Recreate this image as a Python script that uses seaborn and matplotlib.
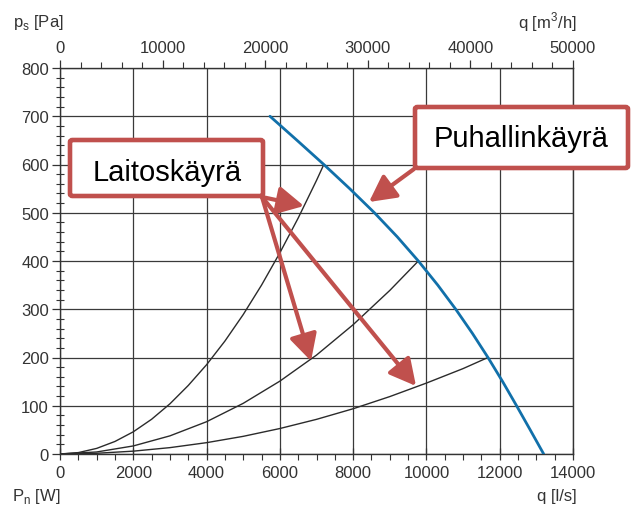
import matplotlib
matplotlib.use("Agg")
import matplotlib.pyplot as plt
import seaborn as sns
from matplotlib.patches import FancyBboxPatch, FancyArrowPatch
from matplotlib.ticker import MultipleLocator

# Fan curve (puhallinkäyrä): air flow q [l/s] against static pressure ps [Pa]
fan_q = [5730, 6470, 7200, 7905, 8580, 9205, 9780, 10310, 10800, 11255, 11680, 12080, 12460, 12832, 13200]
fan_p = [700, 650, 600, 550, 500, 450, 400, 350, 300, 250, 200, 150, 100, 50, 0]

# System curves (laitoskäyrät) ending at their operating points on the fan curve
sys1_q = [0, 500, 1000, 1500, 2000, 2500, 3000, 3500, 4000, 4500, 5000, 5500, 6000, 6500, 7000, 7200]
sys1_p = [0, 2.9, 11.6, 26, 46, 72, 104, 142, 185, 234, 289, 350, 417, 489, 567, 600]
sys2_q = [0, 1000, 2000, 3000, 4000, 5000, 6000, 7000, 8000, 9000, 9780]
sys2_p = [0, 4.2, 16.7, 37.6, 66.9, 105, 151, 205, 268, 339, 400]
sys3_q = [0, 1000, 2000, 3000, 4000, 5000, 6000, 7000, 8000, 9000, 10000, 11000, 11680]
sys3_p = [0, 1.5, 5.9, 13.2, 23.5, 36.6, 52.8, 71.8, 93.8, 119, 147, 177, 200]

x_ticks = [0, 2000, 4000, 6000, 8000, 10000, 12000, 14000]
y_ticks = [0, 100, 200, 300, 400, 500, 600, 700, 800]
top_ticks = [0, 10000, 20000, 30000, 40000, 50000]

sns.set_theme(style="white")
plt.rcParams["font.family"] = ["Liberation Sans", "DejaVu Sans"]
plt.rcParams["mathtext.fontset"] = "custom"
plt.rcParams["mathtext.rm"] = "Liberation Sans"

W, H = 633, 510
fig = plt.figure(figsize=(W / 100, H / 100), dpi=100)
fig.patch.set_facecolor("white")

def fx(px):
    return px / W

def fy(py):
    return 1 - py / H

ax = fig.add_axes([fx(60), fy(455), fx(573) - fx(60), fy(69) - fy(455)])
ax.set_facecolor("white")

line_col = "#2b2b2b"
for q, p in [(sys1_q, sys1_p), (sys2_q, sys2_p), (sys3_q, sys3_p)]:
    sns.lineplot(x=q, y=p, ax=ax, color=line_col, lw=1.0, sort=False, estimator=None, zorder=3)
sns.lineplot(x=fan_q, y=fan_p, ax=ax, color="#1170aa", lw=2.0, sort=False, estimator=None, zorder=4)

ax.set_xlim(0, 14000)
ax.set_ylim(0, 800)
ax.set_xticks(x_ticks)
ax.set_yticks(y_ticks)
ax.xaxis.set_minor_locator(MultipleLocator(500))
ax.yaxis.set_minor_locator(MultipleLocator(20))
ax.grid(True, which="major", color="#3a3a3a", lw=0.9)
ax.set_axisbelow(True)
for s in ax.spines.values():
    s.set_color("#333333")
    s.set_linewidth(1.0)
tick_col = "#333333"
ax.tick_params(axis="x", which="major", direction="inout", length=8, width=0.9,
               colors=tick_col, labelsize=12, pad=4, bottom=True)
ax.tick_params(axis="x", which="minor", direction="out", length=4, width=0.8,
               colors=tick_col, bottom=True)
ax.tick_params(axis="y", which="major", direction="out", length=6, width=0.9,
               colors=tick_col, labelsize=12, pad=2, left=True)
ax.tick_params(axis="y", which="minor", direction="inout", length=6, width=0.8,
               colors=tick_col, left=True)
ax.set_xlabel("")
ax.set_ylabel("")

ax2 = ax.twiny()
ax2.set_xlim(0, 50000)
ax2.set_xticks(top_ticks)
ax2.xaxis.set_minor_locator(MultipleLocator(2000))
ax2.tick_params(axis="x", which="major", direction="out", length=6, width=0.9,
                colors=tick_col, labelsize=12, pad=3, top=True)
ax2.tick_params(axis="x", which="minor", direction="out", length=4, width=0.8,
                colors=tick_col, top=True)
for s in ax2.spines.values():
    s.set_visible(False)

# axis titles
lab_kw = dict(fontsize=12, color="#333333")
fig.text(fx(13), fy(22), r"p$_\mathregular{s}$ [Pa]", ha="left", va="center", **lab_kw)
fig.text(fx(577), fy(22), r"q [m$^\mathregular{3}$/h]", ha="right", va="center", **lab_kw)
fig.text(fx(12), fy(497), r"P$_\mathregular{n}$ [W]", ha="left", va="center", **lab_kw)
fig.text(fx(577), fy(497), "q [l/s]", ha="right", va="center", **lab_kw)

# callout boxes
red = "#c0504d"

def box(x0, y0, x1, y1):
    p = FancyBboxPatch((fx(x0), fy(y1)), fx(x1) - fx(x0), fy(y0) - fy(y1),
                       boxstyle="round,pad=0,rounding_size=0.004",
                       transform=fig.transFigure, facecolor="white",
                       edgecolor=red, lw=3.3, zorder=5)
    fig.add_artist(p)

box(70, 141, 263, 197)
box(415, 108, 628, 169)
fig.text(fx(167), fy(181), "Laitoskäyrä", ha="center", va="baseline",
         fontsize=21, color="black", zorder=6)
fig.text(fx(521), fy(147), "Puhallinkäyrä", ha="center", va="baseline",
         fontsize=21, color="black", zorder=6)

def arrow(x0, y0, x1, y1):
    a = FancyArrowPatch((fx(x0), fy(y0)), (fx(x1), fy(y1)),
                        transform=fig.transFigure,
                        arrowstyle="-|>,head_length=0.8,head_width=0.42",
                        mutation_scale=20, color=red, lw=3.0,
                        shrinkA=0, shrinkB=0, zorder=5)
    fig.add_artist(a)

arrow(262, 198, 304, 207)
arrow(262, 198, 311, 362)
arrow(262, 198, 416, 387)
arrow(414, 170, 369, 203)

fig.savefig("out.png", dpi=100, facecolor="white")
